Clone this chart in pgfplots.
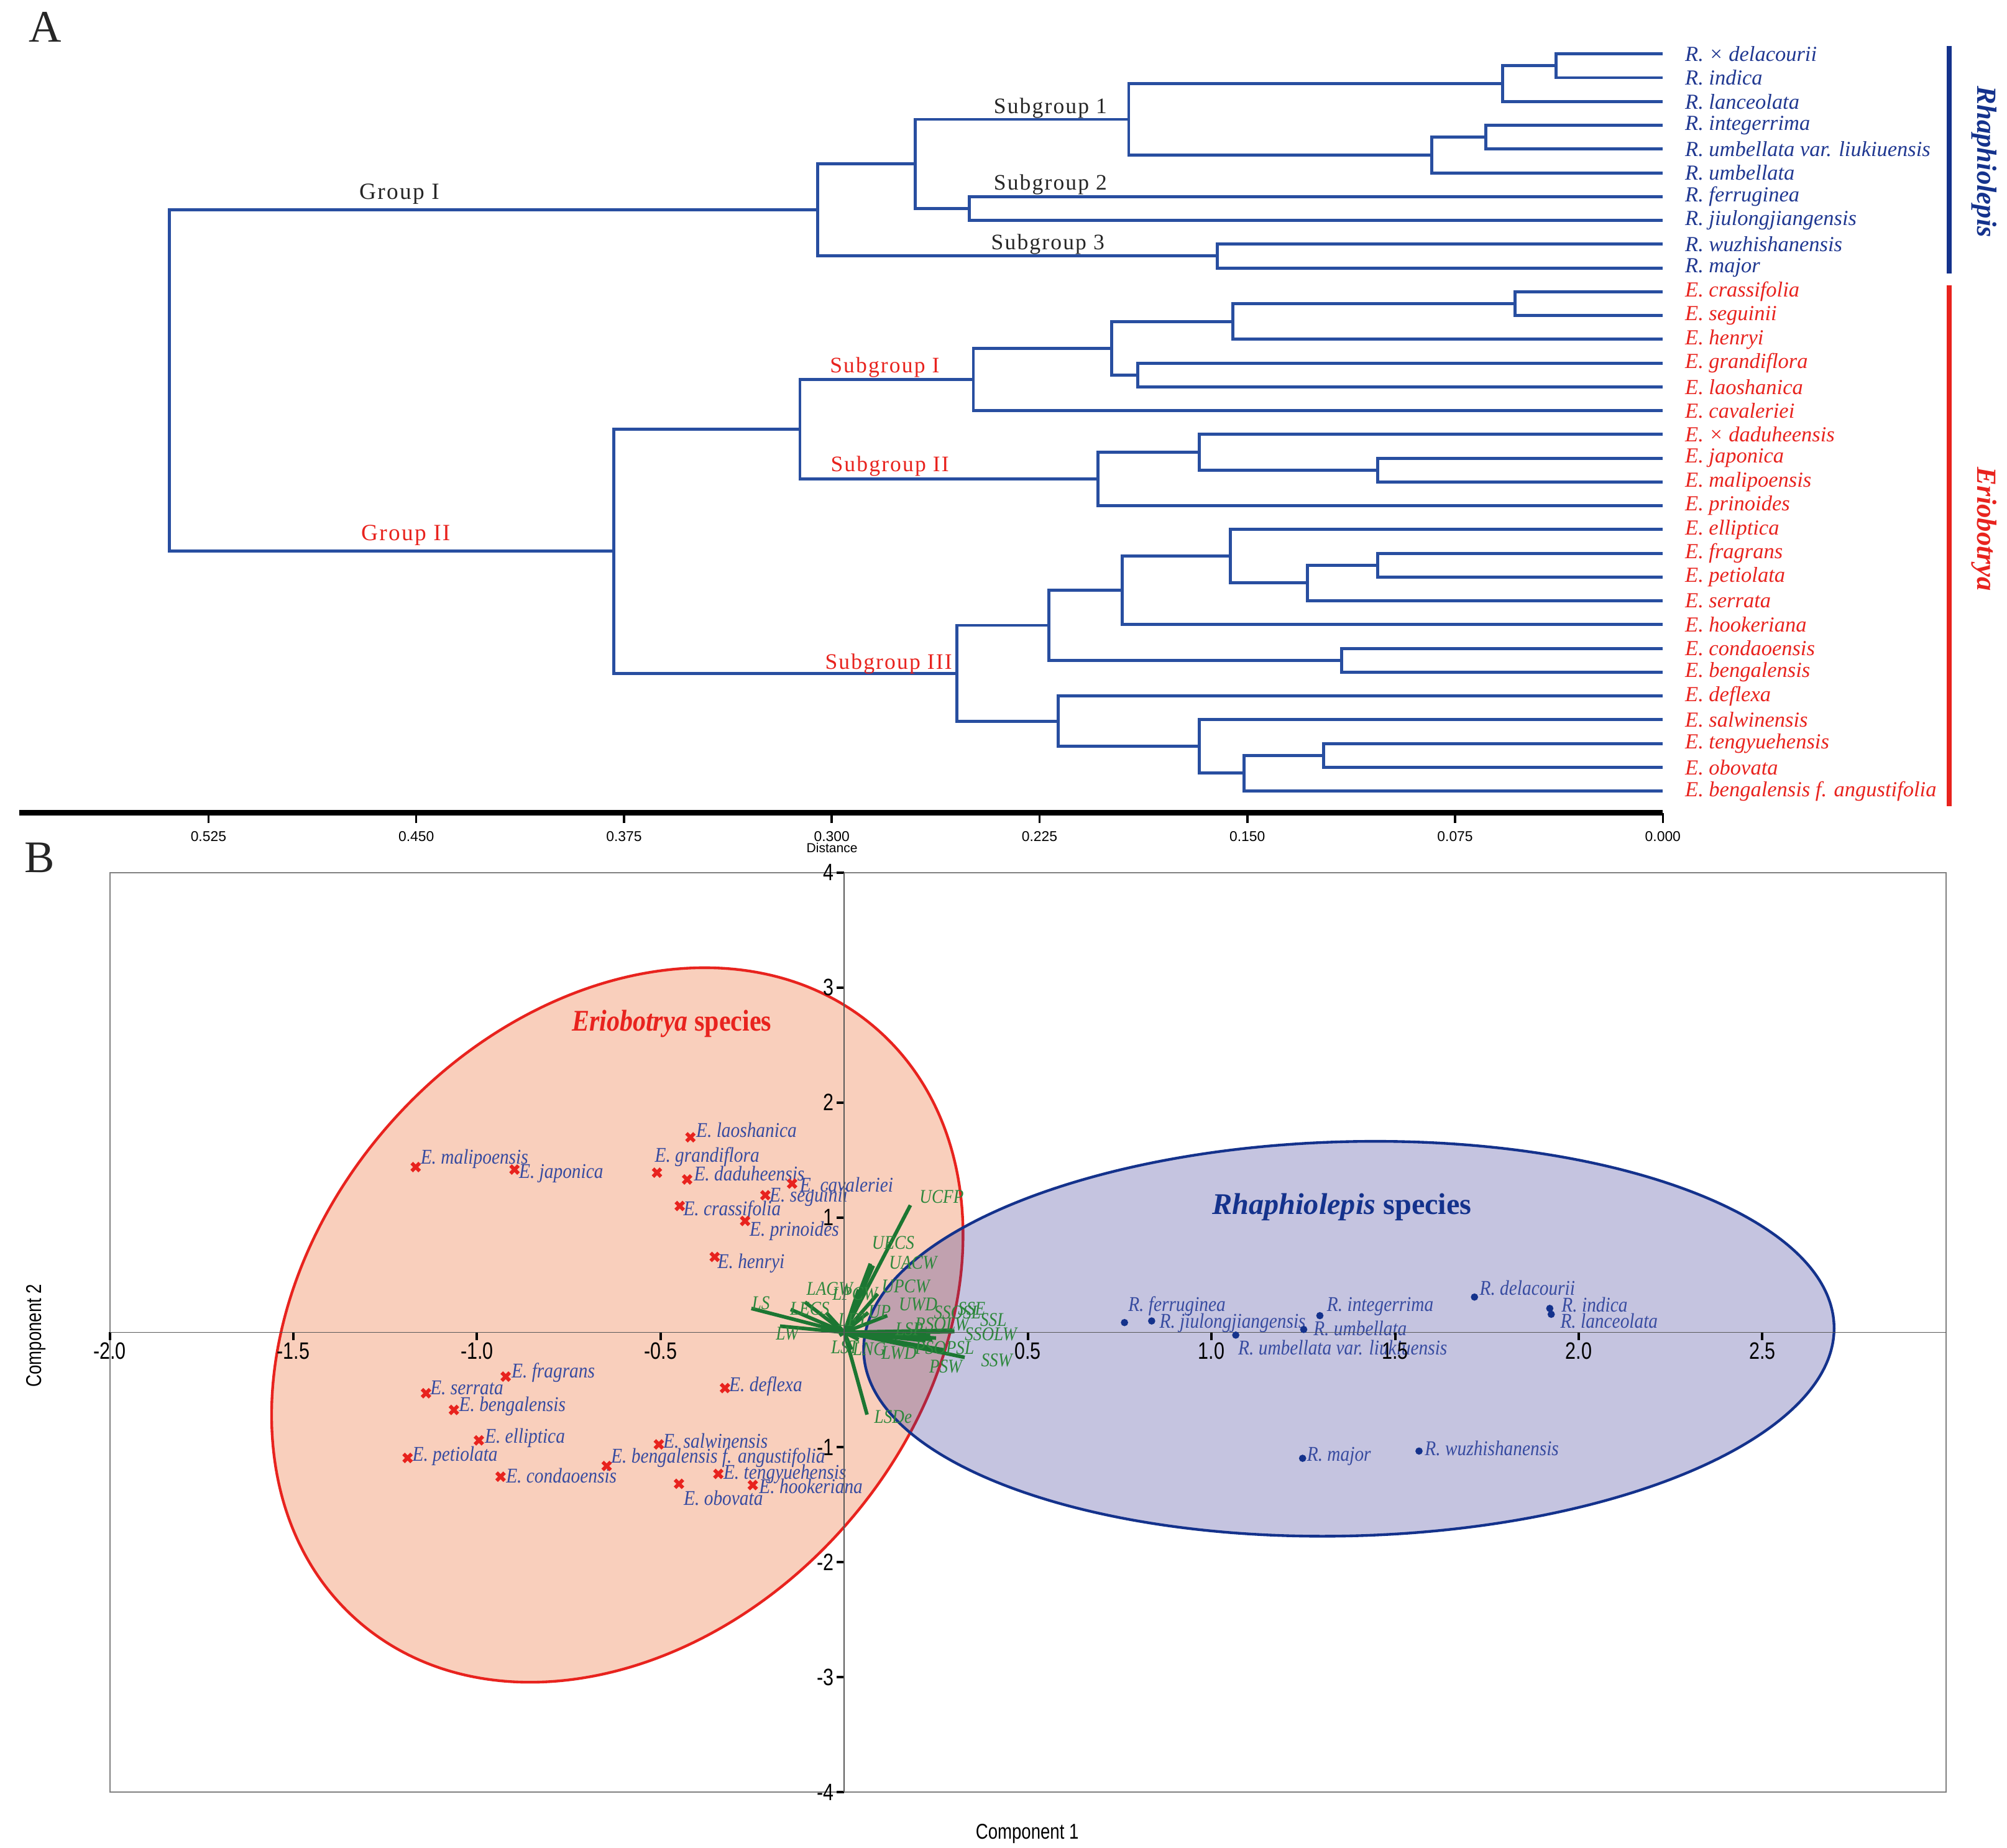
\documentclass[border=0pt]{standalone}
\usepackage{pgfplots}
\pgfplotsset{compat=1.18}
\usepackage{graphicx}
\usepackage{fontspec}
\setmainfont{Liberation Serif}
\setsansfont{Liberation Sans}
\newfontfamily\spaced[LetterSpace=6]{Liberation Serif}

\definecolor{treeblue}{RGB}{40,78,160}
\definecolor{rblue}{RGB}{32,56,145}
\definecolor{ered}{RGB}{232,35,30}
\definecolor{peach}{RGB}{249,207,188}
\definecolor{lav}{RGB}{48,44,144}
\definecolor{eblue}{RGB}{20,50,140}
\definecolor{vgreen}{RGB}{28,118,50}
\definecolor{tgreen}{RGB}{45,135,60}
\definecolor{lblue}{RGB}{55,75,160}

\pgfkeys{/pgf/number format/assume math mode=true}
\newcommand{\sq}[1]{\scalebox{0.87}[1]{#1}}
% species label in panel B: x, y, xshift, yshift, text
\newcommand{\lab}[5]{\node[anchor=west, inner sep=0pt, text=lblue,
  font=\fontsize{9.3}{11}\selectfont\itshape, xshift=#3mm, yshift=#4mm]
  at (axis cs:#1,#2) {\sq{#5}};}
\newcommand{\vlab}[3]{\node[inner sep=0pt, text=tgreen,
  font=\fontsize{8.6}{10}\selectfont\itshape] at (axis cs:#1,#2) {\sq{#3}};}

\pgfplotsset{tree/.style={treeblue, line width=1.35pt}}
\tikzset{
  leafR/.style={anchor=west, xshift=3.4mm, inner sep=0pt, text=rblue,
    font=\fontsize{9.5}{12}\selectfont\itshape},
  leafE/.style={leafR, text=ered},
  grp/.style={font=\spaced\fontsize{10.3}{12}\selectfont, text=black!85},
  sub/.style={font=\spaced\fontsize{9.8}{12}\selectfont, text=black!85},
}

\begin{document}
\begin{tikzpicture}
\path[use as bounding box] (0,0) rectangle (312.6mm,-287.8mm);
\fill[white] (0,0) rectangle (312.6mm,-287.8mm);

% ---------------- panel A: dendrogram ----------------
\begin{axis}[
  at={(3mm,-126.6mm)}, anchor=south west,
  width=256mm, height=121.9mm, scale only axis,
  xmin=0, xmax=0.5933, x dir=reverse,
  ymin=-32.918, ymax=0,
  axis x line*=bottom, axis y line=none,
  x axis line style={line width=2.4pt, -},
  xtick={0,0.075,0.15,0.225,0.3,0.375,0.45,0.525},
  tick align=outside, major tick length=1.6mm,
  tick style={black, line width=1pt},
  xticklabel={\pgfmathprintnumber[fixed,fixed zerofill,precision=3]{\tick}},
  xticklabel style={font=\sffamily\fontsize{6.3}{7}\selectfont},
  clip=false,
]
% Rhaphiolepis clade
\addplot[tree] coordinates {(0,-1) (0.0385,-1) (0.0385,-2) (0,-2)};
\addplot[tree] coordinates {(0.0385,-1.5) (0.0579,-1.5) (0.0579,-3) (0,-3)};
\addplot[tree] coordinates {(0,-4) (0.0640,-4) (0.0640,-5) (0,-5)};
\addplot[tree] coordinates {(0.0640,-4.5) (0.0834,-4.5) (0.0834,-6) (0,-6)};
\addplot[tree] coordinates {(0.0579,-2.25) (0.1928,-2.25) (0.1928,-5.25) (0.0834,-5.25)};
\addplot[tree] coordinates {(0,-7) (0.2503,-7) (0.2503,-8) (0,-8)};
\addplot[tree] coordinates {(0.1928,-3.75) (0.2698,-3.75) (0.2698,-7.5) (0.2503,-7.5)};
\addplot[tree] coordinates {(0,-9) (0.1609,-9) (0.1609,-10) (0,-10)};
\addplot[tree] coordinates {(0.2698,-5.625) (0.3050,-5.625) (0.3050,-9.5) (0.1609,-9.5)};
% Eriobotrya clade
\addplot[tree] coordinates {(0,-11) (0.0533,-11) (0.0533,-12) (0,-12)};
\addplot[tree] coordinates {(0.0533,-11.5) (0.1553,-11.5) (0.1553,-13) (0,-13)};
\addplot[tree] coordinates {(0,-14) (0.1896,-14) (0.1896,-15) (0,-15)};
\addplot[tree] coordinates {(0.1553,-12.25) (0.1989,-12.25) (0.1989,-14.5) (0.1896,-14.5)};
\addplot[tree] coordinates {(0.1989,-13.375) (0.2489,-13.375) (0.2489,-16) (0,-16)};
\addplot[tree] coordinates {(0,-18) (0.1029,-18) (0.1029,-19) (0,-19)};
\addplot[tree] coordinates {(0,-17) (0.1673,-17) (0.1673,-18.5) (0.1029,-18.5)};
\addplot[tree] coordinates {(0.1673,-17.75) (0.2040,-17.75) (0.2040,-20) (0,-20)};
\addplot[tree] coordinates {(0.2489,-14.6875) (0.3115,-14.6875) (0.3115,-18.875) (0.2040,-18.875)};
\addplot[tree] coordinates {(0,-22) (0.1029,-22) (0.1029,-23) (0,-23)};
\addplot[tree] coordinates {(0.1029,-22.5) (0.1284,-22.5) (0.1284,-24) (0,-24)};
\addplot[tree] coordinates {(0,-21) (0.1562,-21) (0.1562,-23.25) (0.1284,-23.25)};
\addplot[tree] coordinates {(0.1562,-22.125) (0.1951,-22.125) (0.1951,-25) (0,-25)};
\addplot[tree] coordinates {(0,-26) (0.1159,-26) (0.1159,-27) (0,-27)};
\addplot[tree] coordinates {(0.1951,-23.5625) (0.2216,-23.5625) (0.2216,-26.5) (0.1159,-26.5)};
\addplot[tree] coordinates {(0,-30) (0.1224,-30) (0.1224,-31) (0,-31)};
\addplot[tree] coordinates {(0.1224,-30.5) (0.1511,-30.5) (0.1511,-32) (0,-32)};
\addplot[tree] coordinates {(0,-29) (0.1673,-29) (0.1673,-31.25) (0.1511,-31.25)};
\addplot[tree] coordinates {(0,-28) (0.2183,-28) (0.2183,-30.125) (0.1673,-30.125)};
\addplot[tree] coordinates {(0.2216,-25.03) (0.2549,-25.03) (0.2549,-29.06) (0.2183,-29.06)};
\addplot[tree] coordinates {(0.3115,-16.78) (0.3787,-16.78) (0.3787,-27.05) (0.2549,-27.05)};
% root
\addplot[tree] coordinates {(0.3050,-7.5625) (0.5391,-7.5625) (0.5391,-21.91) (0.3787,-21.91)};

\node[leafR] at (axis cs:0,-1) {R. × delacourii};
\node[leafR] at (axis cs:0,-2) {R. indica};
\node[leafR] at (axis cs:0,-3) {R. lanceolata};
\node[leafR] at (axis cs:0,-4) {R. integerrima};
\node[leafR] at (axis cs:0,-5) {R. umbellata var. liukiuensis};
\node[leafR] at (axis cs:0,-6) {R. umbellata};
\node[leafR] at (axis cs:0,-7) {R. ferruginea};
\node[leafR] at (axis cs:0,-8) {R. jiulongjiangensis};
\node[leafR] at (axis cs:0,-9) {R. wuzhishanensis};
\node[leafR] at (axis cs:0,-10) {R. major};
\node[leafE] at (axis cs:0,-11) {E. crassifolia};
\node[leafE] at (axis cs:0,-12) {E. seguinii};
\node[leafE] at (axis cs:0,-13) {E. henryi};
\node[leafE] at (axis cs:0,-14) {E. grandiflora};
\node[leafE] at (axis cs:0,-15) {E. laoshanica};
\node[leafE] at (axis cs:0,-16) {E. cavaleriei};
\node[leafE] at (axis cs:0,-17) {E. × daduheensis};
\node[leafE] at (axis cs:0,-18) {E. japonica};
\node[leafE] at (axis cs:0,-19) {E. malipoensis};
\node[leafE] at (axis cs:0,-20) {E. prinoides};
\node[leafE] at (axis cs:0,-21) {E. elliptica};
\node[leafE] at (axis cs:0,-22) {E. fragrans};
\node[leafE] at (axis cs:0,-23) {E. petiolata};
\node[leafE] at (axis cs:0,-24) {E. serrata};
\node[leafE] at (axis cs:0,-25) {E. hookeriana};
\node[leafE] at (axis cs:0,-26) {E. condaoensis};
\node[leafE] at (axis cs:0,-27) {E. bengalensis};
\node[leafE] at (axis cs:0,-28) {E. deflexa};
\node[leafE] at (axis cs:0,-29) {E. salwinensis};
\node[leafE] at (axis cs:0,-30) {E. tengyuehensis};
\node[leafE] at (axis cs:0,-31) {E. obovata};
\node[leafE] at (axis cs:0,-32) {E. bengalensis f. angustifolia};
\end{axis}

% ---------------- panel B: PCA biplot ----------------
\begin{axis}[
  at={(17.1mm,-279.1mm)}, anchor=south west,
  width=286mm, height=143.2mm, scale only axis,
  xmin=-2, xmax=3, ymin=-4, ymax=4,
  axis lines=middle, axis line style={-, black!65, line width=0.5pt},
  axis on top, clip=false,
  xtick={-2,-1.5,-1,-0.5,0.5,1,1.5,2,2.5},
  ytick={-4,-3,-2,-1,1,2,3,4},
  tick align=outside, major tick length=1.2mm,
  tick style={black, line width=1.1pt},
  xticklabel={\scalebox{0.8}[1]{\pgfmathprintnumber[fixed,fixed zerofill,precision=1]{\tick}}},
  yticklabel={\scalebox{0.8}[1]{\pgfmathprintnumber{\tick}}},
  ticklabel style={font=\sffamily\fontsize{10.5}{11}\selectfont, inner sep=1pt},
]
\draw[black!50, line width=0.6pt] (rel axis cs:0,0) rectangle (rel axis cs:1,1);

\draw[ered, line width=1.2pt, fill=peach, rotate around={48.7:(axis cs:-0.618,0.064)}]
  (axis cs:-0.618,0.064) ellipse [x radius=61.3mm, y radius=47.3mm];
\draw[eblue, line width=1.2pt, fill=lav, fill opacity=0.28, rotate around={1.5:(axis cs:1.374,-0.056)}]
  (axis cs:1.374,-0.056) ellipse [x radius=75.6mm, y radius=30.7mm];

\node[font=\fontsize{13.3}{15}\selectfont\bfseries, text=ered] at (axis cs:-0.47,2.687) {\sq{\textit{Eriobotrya} species}};
\node[font=\fontsize{13.3}{15}\selectfont\bfseries, text=eblue] at (axis cs:1.355,1.089) {\textit{Rhaphiolepis} species};

% loading vectors
\addplot[vgreen, line width=1.6pt, quiver={u=\thisrow{u}, v=\thisrow{v}}] table {
x y u v
0 0 -0.253 0.208
0 0 -0.146 0.199
0 0 -0.107 0.263
0 0 -0.049 0.172
0 0 -0.175 0.054
0 0 0.039 0.372
0 0 0.071 0.598
0 0 0.079 0.580
0 0 0.180 1.106
0 0 0.091 0.335
0 0 0.065 0.172
0 0 0.117 0.145
0 0 0.295 0.018
0 0 0.290 0.010
0 0 0.289 0.013
0 0 0.234 -0.027
0 0 0.295 0.005
0 0 0.300 0.008
0 0 0.273 -0.154
0 0 0.328 -0.218
0 0 0.240 -0.063
0 0 0.221 -0.073
0 0 0.250 -0.050
0 0 0.039 -0.063
0 0 -0.013 -0.027
0 0 0.020 -0.150
0 0 0.062 -0.716
};
\vlab{0.265}{1.178}{UCFP}
\vlab{0.133}{0.779}{UECS}
\vlab{0.187}{0.607}{UACW}
\vlab{0.167}{0.399}{UPCW}
\vlab{-0.040}{0.381}{LAGW}
\vlab{0.029}{0.335}{LPCW}
\vlab{0.201}{0.245}{UWD}
\vlab{-0.227}{0.254}{LS}
\vlab{-0.094}{0.208}{LECS}
\vlab{0.096}{0.181}{UP}
\vlab{0.023}{0.109}{LFT}
\vlab{0.308}{0.172}{SSOSL}
\vlab{0.347}{0.208}{SSE}
\vlab{0.406}{0.109}{SSL}
\vlab{0.266}{0.073}{PSOLW}
\vlab{0.177}{0.027}{LSP}
\vlab{0.399}{-0.018}{SSOLW}
\vlab{-0.155}{-0.009}{LW}
\vlab{0.001}{-0.127}{LST}
\vlab{0.068}{-0.145}{LNG}
\vlab{0.149}{-0.181}{LWD}
\vlab{0.273}{-0.136}{PSOPSL}
\vlab{0.276}{-0.299}{PSW}
\vlab{0.415}{-0.245}{SSW}
\vlab{0.133}{-0.734}{LSDe}

% Eriobotrya samples
\addplot[only marks, mark=x, mark size=2.5pt, ered, line width=1.6pt] coordinates {
(-1.167,1.438) (-0.898,1.416) (-0.510,1.389) (-0.419,1.697) (-0.428,1.330)
(-0.142,1.294) (-0.215,1.193) (-0.448,1.099) (-0.270,0.969) (-0.353,0.656)
(-0.922,-0.385) (-1.139,-0.530) (-1.063,-0.675) (-0.325,-0.485) (-0.995,-0.940)
(-1.189,-1.093) (-0.936,-1.256) (-0.505,-0.975) (-0.647,-1.163) (-0.343,-1.232)
(-0.450,-1.318) (-0.249,-1.329)};
% Rhaphiolepis samples
\addplot[only marks, mark=*, mark size=1.4pt, eblue] coordinates {
(0.763,0.085) (0.837,0.099) (1.295,0.145) (1.251,0.025) (1.066,-0.024)
(1.716,0.307) (1.921,0.208) (1.925,0.157) (1.248,-1.096) (1.565,-1.033)};

\lab{-1.167}{1.438}{0.7}{1.3}{E. malipoensis}
\lab{-0.898}{1.416}{0.64}{-0.64}{E. japonica}
\lab{-0.510}{1.389}{-0.4}{2.48}{E. grandiflora}
\lab{-0.419}{1.697}{0.84}{1.16}{E. laoshanica}
\lab{-0.428}{1.330}{1.0}{0.96}{E. daduheensis}
\lab{-0.142}{1.294}{1.14}{-0.16}{E. cavaleriei}
\lab{-0.215}{1.193}{0.6}{-0.3}{E. seguinii}
\lab{-0.448}{1.099}{0.5}{-0.64}{E. crassifolia}
\lab{-0.270}{0.969}{0.64}{-1.54}{E. prinoides}
\lab{-0.353}{0.656}{0.4}{-1.0}{E. henryi}
\lab{-0.922}{-0.385}{0.86}{0.64}{E. fragrans}
\lab{-1.139}{-0.530}{0.6}{0.8}{E. serrata}
\lab{-1.063}{-0.675}{0.74}{0.58}{E. bengalensis}
\lab{-0.325}{-0.485}{0.6}{0.32}{E. deflexa}
\lab{-0.995}{-0.940}{0.86}{0.36}{E. elliptica}
\lab{-1.189}{-1.093}{0.68}{0.32}{E. petiolata}
\lab{-0.936}{-1.256}{0.8}{0.2}{E. condaoensis}
\lab{-0.505}{-0.975}{0.62}{0.58}{E. salwinensis}
\lab{-0.647}{-1.163}{0.62}{1.26}{E. bengalensis f. angustifolia}
\lab{-0.343}{-1.232}{0.74}{0}{E. tengyuehensis}
\lab{-0.249}{-1.329}{0.92}{-0.22}{E. hookeriana}
\lab{-0.450}{-1.318}{0.68}{-2.2}{E. obovata}
\lab{0.763}{0.085}{0.52}{2.58}{R. ferruginea}
\lab{0.837}{0.099}{1.16}{-0.36}{R. jiulongjiangensis}
\lab{1.295}{0.145}{1.04}{1.46}{R. integerrima}
\lab{1.251}{0.025}{1.46}{0.2}{R. umbellata}
\lab{1.066}{-0.024}{0.32}{-2.0}{R. umbellata var. liukiuensis}
\lab{1.716}{0.307}{0.74}{1.46}{R. delacourii}
\lab{1.921}{0.208}{1.78}{0.6}{R. indica}
\lab{1.925}{0.157}{1.36}{-1.04}{R. lanceolata}
\lab{1.248}{-1.096}{0.62}{0.32}{R. major}
\lab{1.565}{-1.033}{0.84}{0.42}{R. wuzhishanensis}
\end{axis}

% ---------------- free text, in reference pixels ----------------
\begin{scope}[x=0.2mm, y=-0.2mm]
\node[font=\fontsize{20}{22}\selectfont, text=black!85] at (35,21) {A};
\node[font=\fontsize{20}{22}\selectfont, text=black!85] at (31,668) {B};

\draw[eblue, line width=0.8mm] (1518,36) -- (1518,213);
\draw[ered, line width=0.8mm] (1518,222) -- (1518,628);
\node[rotate=-90, font=\fontsize{12.3}{14}\selectfont\bfseries\itshape, text=eblue] at (1545,126) {Rhaphiolepis};
\node[rotate=-90, font=\fontsize{12.3}{14}\selectfont\bfseries\itshape, text=ered] at (1545,412) {Eriobotrya};

\node[grp] at (311,151) {Group I};
\node[sub] at (818,84) {Subgroup 1};
\node[sub] at (818,144) {Subgroup 2};
\node[sub] at (816,190) {Subgroup 3};
\node[grp, text=ered] at (316,417) {Group II};
\node[sub, text=ered] at (689,286) {Subgroup I};
\node[sub, text=ered] at (693,363) {Subgroup II};
\node[sub, text=ered] at (692,517) {Subgroup III};

\node[font=\sffamily\fontsize{5.8}{6}\selectfont] at (648,660) {Distance};
\node[font=\sffamily\fontsize{9.5}{10}\selectfont] at (800,1428) {\scalebox{0.8}[1]{Component 1}};
\node[rotate=90, font=\sffamily\fontsize{9.5}{10}\selectfont] at (28,1040) {\scalebox{0.8}[1]{Component 2}};
\end{scope}
\end{tikzpicture}
\end{document}
